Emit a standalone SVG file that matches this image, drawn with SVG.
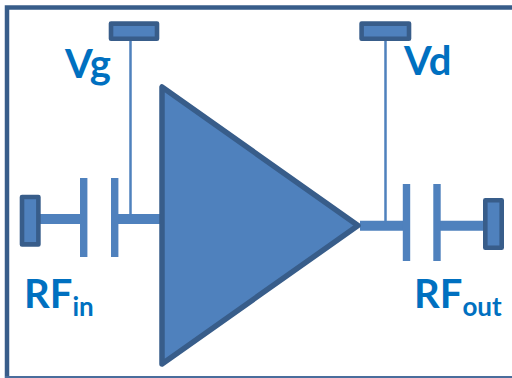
<svg xmlns="http://www.w3.org/2000/svg" width="512" height="378" viewBox="0 0 512 378">
<style>
.pad{fill:#4f81bd;stroke:#385d8a;stroke-width:4.6;stroke-linejoin:round}
.w{stroke:#4f81bd;fill:none}
.t{fill:#0070c0;font-family:Lato,"Open Sans",sans-serif;font-weight:700}
.big{font-size:40px}
.sub{font-size:26px}
</style>
<rect width="512" height="378" fill="#fff"/>
<path id="frame" d="M513 7.500H7V378" fill="none" stroke="#385d8a" stroke-width="4.500"/>
<path d="M5 377H513" stroke="#4a6d9c" stroke-width="2" fill="none"/>
<g id="connectors">
<path class="w" stroke-width="2.500" d="M130.500 41V215M385.500 41V221"/>
<path class="w" stroke-width="10" d="M40 219H80M118 219H161M360 225.700H403M440 225.700H484"/>
<path class="w" stroke-width="7.400" d="M83.700 178V257M114.700 178V257M406.500 184V261M437 184V261"/>
</g>
<g id="amplifier"><path d="M162 87V364L358 225.500Z" fill="#4f81bd" stroke="#385d8a" stroke-width="5.500" stroke-linejoin="round"/></g>
<g id="vg-pad"><rect class="pad" x="111" y="23.600" width="46" height="15.200"/></g>
<g id="vd-pad"><rect class="pad" x="361.600" y="23.600" width="47.400" height="15.200"/></g>
<g id="rfin-pad"><rect class="pad" x="22" y="197" width="16.400" height="47.400"/></g>
<g id="rfout-pad"><rect class="pad" x="485.300" y="200.300" width="16.400" height="47.400"/></g>
<g id="labels">
<text class="t big" x="65" y="78">Vg</text>
<text class="t big" x="404" y="75">Vd</text>
<text class="t big" x="24" y="308">RF<tspan class="sub" dy="8">in</tspan></text>
<text class="t big" x="414" y="308">RF<tspan class="sub" dy="8">out</tspan></text>
</g>
</svg>
